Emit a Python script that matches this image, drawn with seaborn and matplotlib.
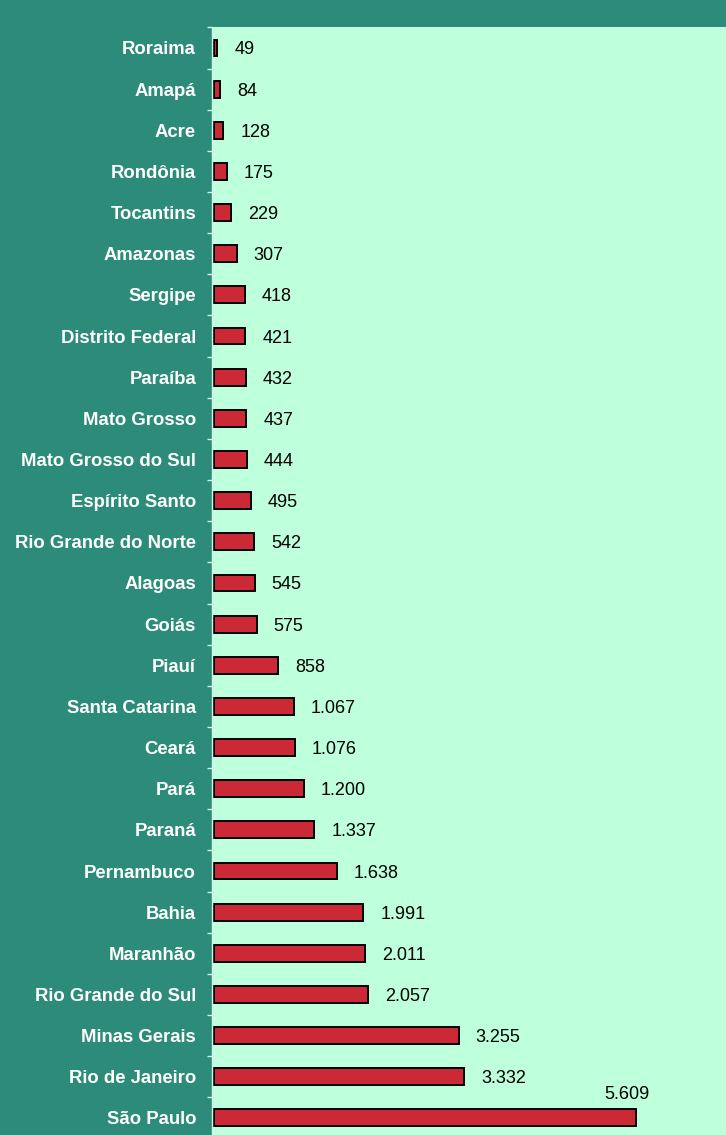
import matplotlib
matplotlib.use("Agg")
import matplotlib.pyplot as plt
from matplotlib.ticker import FixedLocator
import seaborn as sns
import pandas as pd

states = ["Roraima", "Amapá", "Acre", "Rondônia", "Tocantins", "Amazonas",
          "Sergipe", "Distrito Federal", "Paraíba", "Mato Grosso",
          "Mato Grosso do Sul", "Espírito Santo", "Rio Grande do Norte",
          "Alagoas", "Goiás", "Piauí", "Santa Catarina", "Ceará", "Pará",
          "Paraná", "Pernambuco", "Bahia", "Maranhão", "Rio Grande do Sul",
          "Minas Gerais", "Rio de Janeiro", "São Paulo"]
values = [49, 84, 128, 175, 229, 307, 418, 421, 432, 437, 444, 495, 542,
          545, 575, 858, 1067, 1076, 1200, 1337, 1638, 1991, 2011, 2057,
          3255, 3332, 5609]

TEAL = "#2C8C79"
MINT = "#BEFFDC"
RED = "#CC2936"

sns.set_theme(style="white")
plt.rcParams["font.family"] = ["Liberation Sans", "DejaVu Sans"]

df = pd.DataFrame({"estado": states, "valor": values})

W, H = 726, 1135
fig = plt.figure(figsize=(W / 100, H / 100), dpi=100, facecolor=TEAL)
ax = fig.add_axes([212 / W, 0, 514 / W, (H - 27.4) / H])
ax.set_facecolor(MINT)

sns.barplot(data=df, x="valor", y="estado", orient="h", width=0.41,
            color=RED, saturation=1, edgecolor="black", linewidth=1.4, ax=ax)

ax.set_xlim(-20, -20 + 514 / 0.0753)
ax.set_ylim(26.415, -0.5)
ax.set_xlabel("")
ax.set_ylabel("")
ax.set_xticks([])

for s in ["top", "right", "bottom"]:
    ax.spines[s].set_visible(False)
ax.spines["left"].set_color("#D6F5E8")
ax.spines["left"].set_linewidth(1.0)

ax.tick_params(axis="y", which="major", length=0, pad=11.5,
               labelsize=13.3, labelcolor="white")
for lbl in ax.get_yticklabels():
    lbl.set_fontweight("bold")
ax.yaxis.set_minor_locator(FixedLocator([i - 0.5 for i in range(len(states) + 1)]))
ax.tick_params(axis="y", which="minor", left=True, length=3.6, width=1,
               color="#D6F5E8")


def fmt(v):
    return f"{v:,}".replace(",", ".")


for i, v in enumerate(values):
    if i == len(values) - 1:
        ax.annotate(fmt(v), xy=(v, i), xytext=(-9, 25), textcoords="offset pixels",
                    ha="center", va="center_baseline", fontsize=13, color="black")
    else:
        ax.annotate(fmt(v), xy=(v, i), xytext=(17, 0), textcoords="offset pixels",
                    ha="left", va="center_baseline", fontsize=13, color="black")

fig.savefig("out.png", dpi=100, facecolor=TEAL)
